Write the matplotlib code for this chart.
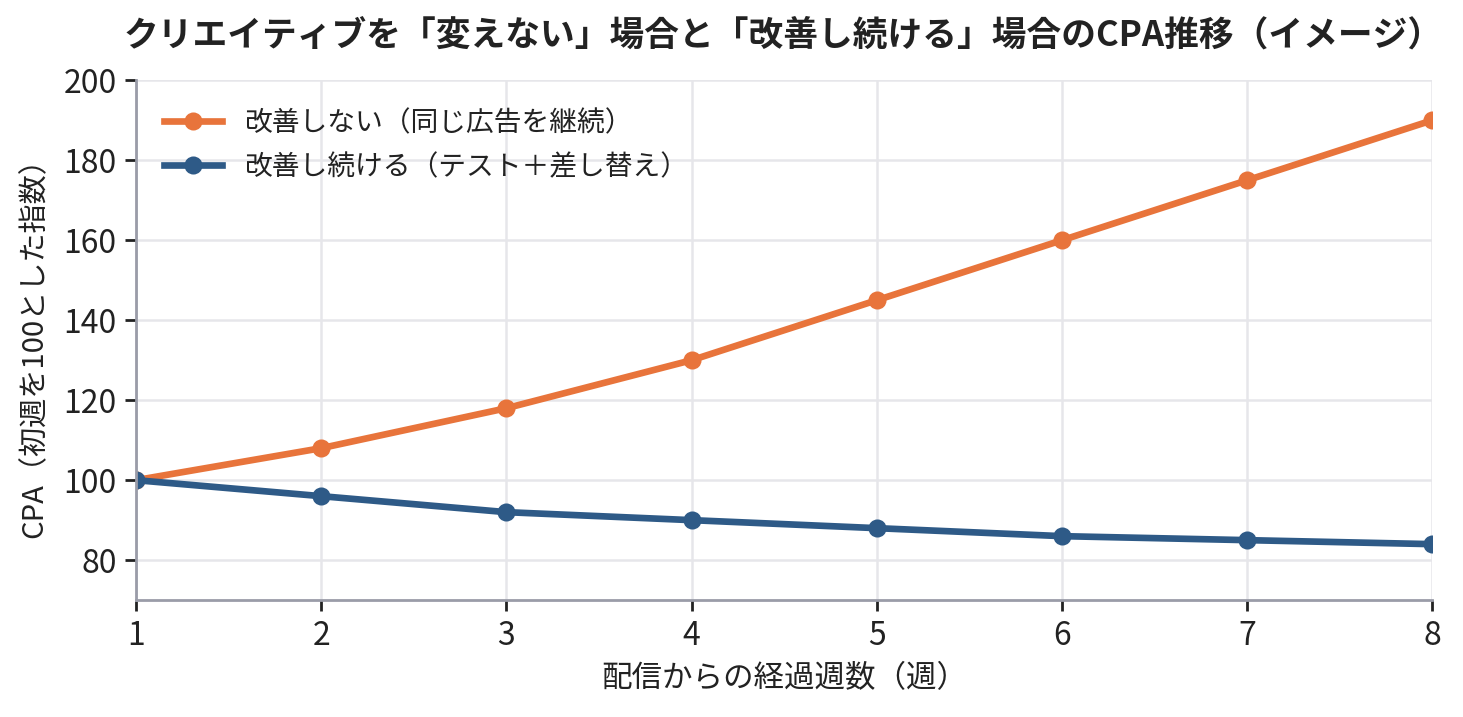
import matplotlib
matplotlib.use("Agg")
import matplotlib.pyplot as plt

plt.rcParams['font.family'] = ['Noto Sans CJK JP', 'DejaVu Sans']

weeks = [1, 2, 3, 4, 5, 6, 7, 8]
cpa_same = [100, 108, 118, 130, 145, 160, 175, 190]
cpa_improve = [100, 96, 92, 90, 88, 86, 85, 84]
label_same = '改善しない（同じ広告を継続）'
label_improve = '改善し続ける（テスト＋差し替え）'
yticks = [80, 100, 120, 140, 160, 180, 200]

text_color = '#222222'
spine_color = '#9a9ca8'
grid_color = '#e6e6ea'

fig = plt.figure(figsize=(7.315, 3.585), dpi=200)
ax = fig.add_axes([0.093, 0.163, 0.886, 0.725])

ax.plot(weeks, cpa_same, color='#e8743b', lw=2.4, marker='o', ms=5.5, label=label_same)
ax.plot(weeks, cpa_improve, color='#2e5a87', lw=2.4, marker='o', ms=5.5, label=label_improve)

ax.set_xlim(1, 8)
ax.set_ylim(70, 200)
ax.set_xticks(weeks)
ax.set_yticks(yticks)
ax.grid(True, color=grid_color, lw=0.9)
ax.set_axisbelow(True)

for s in ['top', 'right']:
    ax.spines[s].set_visible(False)
for s in ['left', 'bottom']:
    ax.spines[s].set_color(spine_color)
    ax.spines[s].set_linewidth(1.0)

ax.tick_params(axis='both', labelsize=11.5, colors=text_color, length=4, width=1, pad=3)

ax.set_xlabel('配信からの経過週数（週）', fontsize=11, color=text_color, labelpad=4)
ax.set_ylabel('CPA（初週を100とした指数）', fontsize=10.5, color=text_color, labelpad=5)
fig.suptitle('クリエイティブを「変えない」場合と「改善し続ける」場合のCPA推移（イメージ）',
             x=0.5355, y=0.975, fontsize=12.5, fontweight='bold', color=text_color)

ax.legend(loc='upper left', frameon=False, fontsize=10, labelcolor=text_color,
          handlelength=2.1, borderaxespad=0.6, labelspacing=0.5)

fig.savefig('out.png', dpi=200)
